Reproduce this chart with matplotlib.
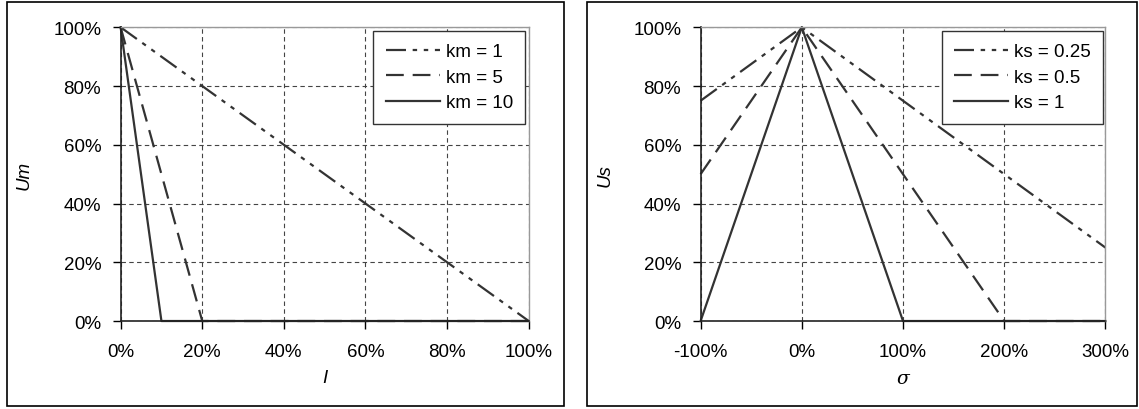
import matplotlib
matplotlib.use("Agg")
import matplotlib.pyplot as plt
from matplotlib.patches import Rectangle
from matplotlib.ticker import PercentFormatter

plt.rcParams['font.family'] = ['Liberation Sans', 'DejaVu Sans']
plt.rcParams['font.size'] = 13.5
plt.rcParams['axes.unicode_minus'] = False

# left chart: Um vs I
I_vals = [0, 0.1, 0.2, 0.4, 0.6, 0.8, 1.0]
um_km1 = [1.0, 0.9, 0.8, 0.6, 0.4, 0.2, 0.0]
um_km5 = [1.0, 0.5, 0.0, 0.0, 0.0, 0.0, 0.0]
um_km10 = [1.0, 0.0, 0.0, 0.0, 0.0, 0.0, 0.0]
km_labels = ['km = 1', 'km = 5', 'km = 10']

# right chart: Us vs sigma
sigma_vals = [-1.0, 0.0, 1.0, 2.0, 3.0]
us_ks025 = [0.75, 1.0, 0.75, 0.5, 0.25]
us_ks05 = [0.5, 1.0, 0.5, 0.0, 0.0]
us_ks1 = [0.0, 1.0, 0.0, 0.0, 0.0]
ks_labels = ['ks = 0.25', 'ks = 0.5', 'ks = 1']

line_col = '#333333'
styles = [(0, (9, 3, 2, 3, 2, 3)), (0, (8, 4)), '-']

fig = plt.figure(figsize=(11.39, 4.10), dpi=100)

# outer frames round each chart
for x0, w in [(0.0061, 0.4895), (0.5154, 0.4825)]:
    fig.patches.append(Rectangle((x0, 0.0085), w, 0.985, transform=fig.transFigure,
                                 fill=False, edgecolor='black', linewidth=1.2))

ax1 = fig.add_axes([0.1059, 0.2146, 0.3583, 0.7164])
ax2 = fig.add_axes([0.6151, 0.2146, 0.3554, 0.7164])


def style_axes(ax, xlim, xticks, xlabel, ylabel):
    ax.set_xlim(*xlim)
    ax.set_ylim(0, 1)
    ax.set_xticks(xticks)
    ax.set_yticks([0, 0.2, 0.4, 0.6, 0.8, 1.0])
    ax.xaxis.set_major_formatter(PercentFormatter(1.0, decimals=0))
    ax.yaxis.set_major_formatter(PercentFormatter(1.0, decimals=0))
    ax.grid(True, color='#444444', linestyle=(0, (4, 3)), linewidth=0.8)
    ax.set_axisbelow(True)
    for s in ['top', 'right']:
        ax.spines[s].set_color('#999999')
        ax.spines[s].set_linewidth(1.0)
    for s in ['left', 'bottom']:
        ax.spines[s].set_color('#222222')
        ax.spines[s].set_linewidth(1.2)
    ax.tick_params(axis='y', direction='out', length=6, width=1.0, pad=8, colors='black')
    ax.tick_params(axis='x', direction='out', length=6, width=1.0, pad=10, colors='black')
    ax.set_xlabel(xlabel, fontstyle='italic')
    ax.set_ylabel(ylabel, fontstyle='italic')
    ax.xaxis.set_label_coords(0.5, -0.165)
    ax.yaxis.set_label_coords(-0.215, 0.5)


for ys, lab, ls in zip([um_km1, um_km5, um_km10], km_labels, styles):
    ax1.plot(I_vals, ys, color=line_col, linestyle=ls, linewidth=1.6, label=lab, clip_on=False)
style_axes(ax1, (0, 1), [0, 0.2, 0.4, 0.6, 0.8, 1.0], 'I', 'Um')

for ys, lab, ls in zip([us_ks025, us_ks05, us_ks1], ks_labels, styles):
    ax2.plot(sigma_vals, ys, color=line_col, linestyle=ls, linewidth=1.6, label=lab, clip_on=False)
style_axes(ax2, (-1, 3), [-1, 0, 1, 2, 3], 'σ', 'Us')
ax2.xaxis.label.set_family(['DejaVu Serif'])

for ax, x_right in [(ax1, 525 / 1139), (ax2, 1103 / 1139)]:
    leg = ax.legend(loc='upper right', bbox_to_anchor=(x_right, 1 - 32 / 410),
                    bbox_transform=fig.transFigure, fancybox=False, framealpha=1,
                    edgecolor='#333333', handlelength=2.9, handletextpad=0.3,
                    labelspacing=0.45, borderpad=0.65, borderaxespad=0)
    leg.get_frame().set_linewidth(1.0)

fig.savefig('out.png', dpi=100)
